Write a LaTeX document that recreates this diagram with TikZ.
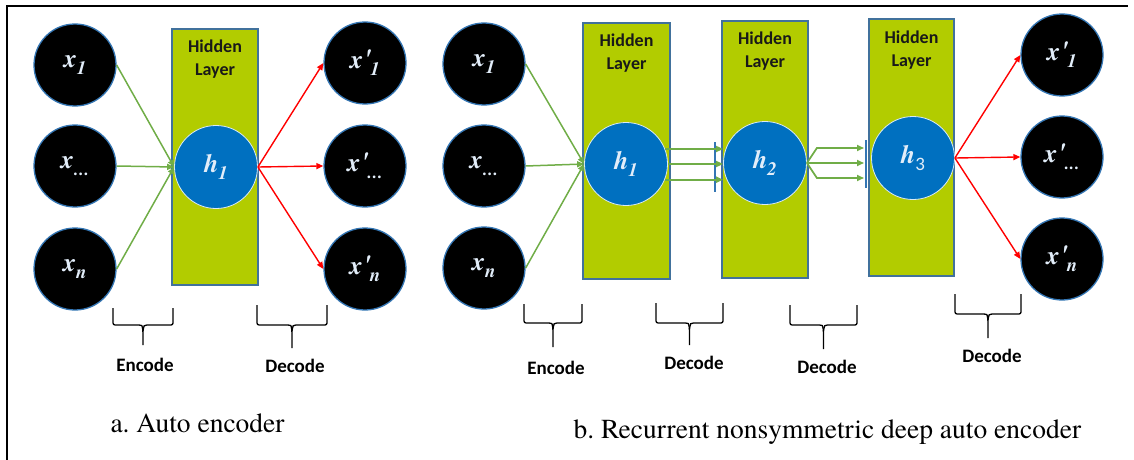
\documentclass[tikz,border=0pt]{standalone}
\usepackage{fontspec}
\newfontfamily\tms{texgyretermes}[Extension=.otf, UprightFont=*-regular, BoldFont=*-bold, ItalicFont=*-italic, BoldItalicFont=*-bolditalic]
\newfontfamily\calib{Carlito}
\frenchspacing
\usetikzlibrary{arrows.meta}
\definecolor{ring}{RGB}{52,118,180}
\definecolor{labw}{RGB}{226,237,249}
\definecolor{lime}{RGB}{178,204,0}
\definecolor{rectb}{RGB}{65,113,156}
\definecolor{hblue}{RGB}{0,112,192}
\definecolor{gr}{RGB}{112,173,71}
\definecolor{rd}{RGB}{255,0,0}
\newcommand\nlab[2]{{\tms\fontsize{26}{26}\selectfont\bfseries\itshape #1\raisebox{-7pt}{\fontsize{19}{19}\selectfont #2}}}
\newcommand\pr{\kern1pt\raisebox{1pt}{\textquotesingle}\kern-1pt}
\newcommand\dd{.\kern0.5pt.\kern0.5pt.}
\newcommand\brac[5]{% x1 x2 ytop yh ytip
  \draw[brc] (#1,#3) -- (#1,#4) -- ({(#1+#2)/2-6},#4) .. controls ({(#1+#2)/2-1},#4) .. ({(#1+#2)/2},#4+6) -- ({(#1+#2)/2},#5);
  \draw[brc] ({(#1+#2)/2},#4+6) .. controls ({(#1+#2)/2+1},#4) .. ({(#1+#2)/2+6},#4) -- (#2,#4) -- (#2,#3);}
\begin{document}
\begin{tikzpicture}[x=1pt,y=-1pt,
  xnode/.style={circle,fill=black,draw=ring,line width=1.3pt,minimum size=82pt,inner sep=0pt,text=labw},
  hnode/.style={circle,fill=hblue,draw=white!85!hblue,line width=0.8pt,minimum size=83pt,inner sep=0pt,text=labw},
  layer/.style={rectangle,fill=lime,draw=rectb,line width=1.2pt,inner sep=0pt},
  laytext/.style={font=\calib\bfseries\fontsize{18}{23}\selectfont,align=center,text=black!90},
  garrow/.style={draw=gr,line width=1.5pt,-{Triangle[length=7pt,width=6pt]}},
  gpar/.style={draw=gr,line width=1.7pt,-{Triangle[length=7pt,width=6pt]}},
  rarrow/.style={draw=rd,line width=1.4pt,-{Triangle[length=7pt,width=6pt]}},
  bar/.style={draw=ring,line width=1.3pt},
  brc/.style={draw=black,line width=1.3pt,rounded corners=2pt},
  brtext/.style={font=\calib\bfseries\fontsize{19}{19}\selectfont},
  captext/.style={font=\tms\fontsize{27.5}{27.5}\selectfont,anchor=base west}]
\useasboundingbox (0,0) rectangle (1134,460);
% frame
\draw[line width=2pt] (7,460) -- (7,6) -- (1128,6);
% ---------- part a ----------
\node[layer,minimum width=86pt,minimum height=256pt] (La) at (215,157) {};
\node[laytext] (LaT) at (215,59) {Hidden\\Layer};
\node[xnode] (xa1) at (75,65) {\nlab{x}{1}};
\node[xnode] (xa2) at (75,166) {\nlab{x}{\dd}};
\node[xnode] (xa3) at (75,269) {\nlab{x}{n}};
\node[hnode] (ha) at (216,167) {\nlab{h}{1}};
\node[xnode] (ya1) at (365,63) {\nlab{x\pr}{1}};
\node[xnode] (ya2) at (365,166) {\nlab{x\pr}{\dd}};
\node[xnode] (ya3) at (365,269) {\nlab{x\pr}{n}};
\foreach \i in {1,2,3}{\draw[garrow] (xa\i.east) -- (ha.west);}
\foreach \i in {1,2,3}{\draw[rarrow] (ha.east) -- (ya\i.west);}
% ---------- part b ----------
\node[layer,minimum width=87pt,minimum height=256pt] (Lb1) at (626.5,151) {};
\node[laytext] (Lb1T) at (626.5,53.5) {Hidden\\Layer};
\node[layer,minimum width=86pt,minimum height=257pt] (Lb2) at (765,149.5) {};
\node[laytext] (Lb2T) at (765,51.5) {Hidden\\Layer};
\node[layer,minimum width=85pt,minimum height=257pt] (Lb3) at (911.5,147.5) {};
\node[laytext] (Lb3T) at (911.5,50) {Hidden\\Layer};
\node[xnode] (xb1) at (484,64) {\nlab{x}{1}};
\node[xnode] (xb2) at (484,166) {\nlab{x}{\dd}};
\node[xnode] (xb3) at (484,268) {\nlab{x}{n}};
\node[hnode] (hb1) at (626,164) {\nlab{h}{1}};
\node[hnode] (hb2) at (765,163) {\nlab{h}{2}};
\node[hnode] (hb3) at (913,158) {\nlab{h}{{\calib\upshape\mdseries 3}}};
\node[xnode] (yb1) at (1062,55) {\nlab{x\pr}{1}};
\node[xnode] (yb2) at (1062,157) {\nlab{x\pr}{\dd}};
\node[xnode] (yb3) at (1062,259) {\nlab{x\pr}{n}};
\foreach \i in {1,2,3}{\draw[garrow] (xb\i.east) -- (hb1.west);}
% h1 -> h2 parallel
\draw[bar] (715,142) -- (715,192);
\draw[gpar] (hb1.21) -- (hb1.21 -| hb2.west);
\draw[gpar] (hb1.east) -- (hb1.east -| hb2.west);
\draw[gpar] (hb1.-22) -- (hb1.-22 -| hb2.west);
% h2 -> h3 fan
\coordinate (b2t) at (864,148);
\coordinate (b2m) at (864,163);
\coordinate (b2b) at (864,178);
\draw[bar] (866,140) -- (866,188);
\draw[gpar] (hb2.east) -- ++(10,-15) -- (b2t);
\draw[gpar] (hb2.east) -- (b2m);
\draw[gpar] (hb2.east) -- ++(10,15) -- (b2b);
\foreach \i in {1,2,3}{\draw[rarrow] (hb3.east) -- (yb\i.west);}
% ---------- braces ----------
\brac{113}{173}{308}{325}{345}
\node[brtext] (ea) at (145,365) {Encode};
\brac{257}{327}{305}{325}{348}
\node[brtext] (da) at (295,366) {Decode};
\brac{524}{582}{304}{323}{347}
\node[brtext] (eb) at (556,368) {Encode};
\brac{656}{723}{303}{323}{345}
\node[brtext] (db1) at (694,363) {Decode};
\brac{790}{857}{305}{325}{349}
\node[brtext] (db2) at (827,367) {Decode};
\brac{955}{1021}{294}{314}{338}
\node[brtext] (db3) at (992,356) {Decode};
% captions
\node[captext] (ca) at (107,432) {a. Auto encoder};
\node[captext] (cb) at (570,438) {b. Recurrent nonsymmetric deep auto encoder};
\end{tikzpicture}
\end{document}
